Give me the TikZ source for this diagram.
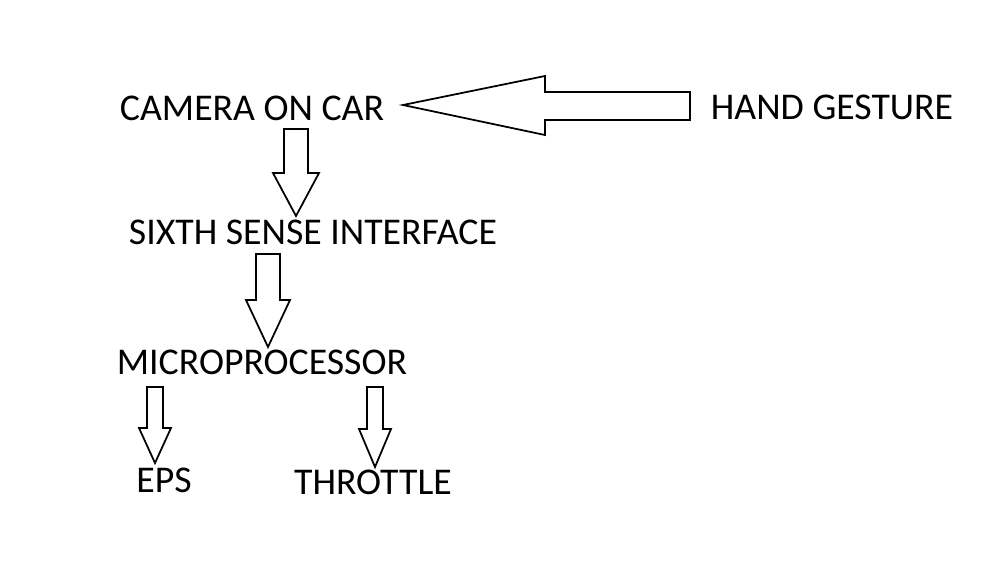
\documentclass[tikz,border=0pt]{standalone}
\usepackage{fontspec}
\setmainfont{Carlito}
\usetikzlibrary{positioning, calc}

% block arrow pointing down: centre x, shaft top, head base, tip, half shaft, half head
\newcommand{\downblock}[6]{%
  \draw [blockline] (#1-#5,#2) -- (#1+#5,#2) -- (#1+#5,#3) -- (#1+#6,#3)
    -- (#1,#4) -- (#1-#6,#3) -- (#1-#5,#3) -- cycle;}

\begin{document}
\begin{tikzpicture}[x=0.02cm, y=-0.02cm, font=\fontsize{21.5}{24}\selectfont,
    txt/.style={inner sep=0pt, anchor=center},
    blockline/.style={draw=black, line width=1pt, line join=miter, fill=white}]

  \useasboundingbox (0,0) rectangle (1000,575);

  % --- texts ---
  \node [txt] (camera) at (252,108) {CAMERA ON CAR};
  \node [txt] (gesture) at (832,107) {HAND GESTURE};
  \node [txt] (sixth) at (313,232) {SIXTH SENSE INTERFACE};
  \node [txt] (micro) at (262,362) {MICROPROCESSOR};
  \node [txt] (eps) at (164,480) {EPS};
  \node [txt] (throttle) at (373,482) {THROTTLE};

  % --- hand gesture to camera ---
  \draw [blockline] (690,92) -- (690,120) -- (545,120) -- (545,135)
    -- (403,105) -- (545,76) -- (545,92) -- cycle;

  % --- downward block arrows ---
  \downblock{296}{129}{173}{216}{12}{23}
  \downblock{268}{254}{300}{347}{12}{22}
  \downblock{155}{387}{428}{463}{8}{16}
  \downblock{375}{387}{429}{467}{8}{16}

\end{tikzpicture}
\end{document}
